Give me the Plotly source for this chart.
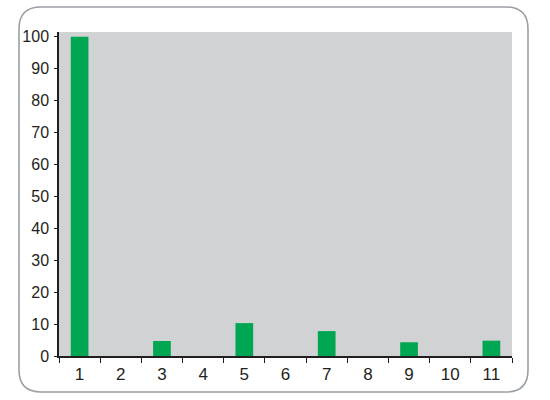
import plotly.graph_objects as go

categories = ["1", "2", "3", "4", "5", "6", "7", "8", "9", "10", "11"]
values = [100, 0, 4.7, 0, 10.3, 0, 7.8, 0, 4.3, 0, 4.8]
y_ticks = [0, 10, 20, 30, 40, 50, 60, 70, 80, 90, 100]

W, H = 550, 400
L, R, T, B = 59, 38, 32, 44
pw, ph = W - L - R, H - T - B


def px(x):
    return (x - L) / pw


def py(y):
    return (H - B - y) / ph


fig = go.Figure()

fig.add_trace(go.Bar(x=categories, y=values,
                     marker=dict(color="#00a651", line=dict(width=0)),
                     width=0.43))

# rounded frame round the whole chart
x0, x1, y0, y1, r = 19, 528, 7, 392, 22
path = (f"M {px(x0 + r)} {py(y0)} L {px(x1 - r)} {py(y0)} "
        f"Q {px(x1)} {py(y0)} {px(x1)} {py(y0 + r)} "
        f"L {px(x1)} {py(y1 - r)} Q {px(x1)} {py(y1)} {px(x1 - r)} {py(y1)} "
        f"L {px(x0 + r)} {py(y1)} Q {px(x0)} {py(y1)} {px(x0)} {py(y1 - r)} "
        f"L {px(x0)} {py(y0 + r)} Q {px(x0)} {py(y0)} {px(x0 + r)} {py(y0)} Z")

fig.update_layout(
    width=W, height=H,
    margin=dict(l=L, r=R, t=T, b=B),
    paper_bgcolor="white",
    plot_bgcolor="#d1d2d4",
    showlegend=False,
    font=dict(family="Liberation Sans Narrow, Liberation Sans, Arial", size=17, color="#231f20"),
    shapes=[dict(type="path", xref="paper", yref="paper", path=path,
                 line=dict(color="#9aa0a6", width=1.6), layer="below")],
    xaxis=dict(type="category", showgrid=False, zeroline=False,
               showline=True, linecolor="#231f20", linewidth=1.5,
               ticks="outside", ticklen=5, tickcolor="#231f20",
               tickson="boundaries", ticklabelstandoff=2),
    yaxis=dict(range=[0, 101.5], tickvals=y_ticks, showgrid=False, zeroline=False,
               showline=True, linecolor="#231f20", linewidth=1.5,
               ticks="outside", ticklen=3, tickcolor="#231f20",
               tickfont=dict(size=16), ticklabelstandoff=2),
)

# drop the page's default body margin so the figure sits at the window corner
fig.write_html("out.html", config={"displayModeBar": False},
               post_script="document.body.style.margin='0';")
